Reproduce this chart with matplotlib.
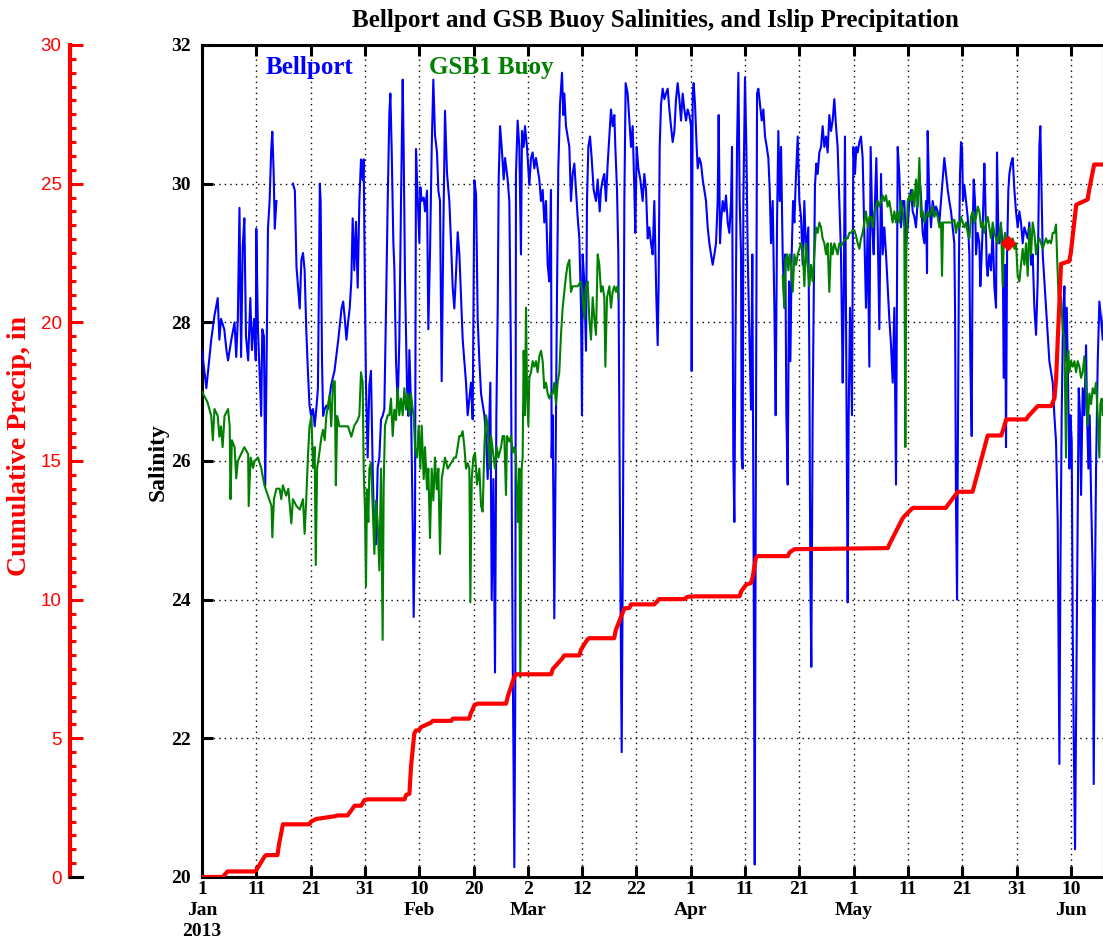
#!/usr/bin/env python3

# Bellport / GSB1 buoy salinity with Islip cumulative precip (Jan-Jun 2013).
# x values are days since 1 Jan 2013.

import numpy as np
import matplotlib
matplotlib.use('Agg')
import matplotlib.pyplot as plt
from matplotlib.ticker import MultipleLocator
from matplotlib.lines import Line2D

nan = np.nan

# ---- Bellport salinity (day, psu) ----
bell_jan = [(0.0,27.6),(0.8,27.05),(1.7,27.75),(2.3,28.1),(2.9,28.35),(3.2,27.75),(3.5,28.05),(4.1,27.9),(4.5,27.6),(4.8,27.45),
            (5.4,27.75),(6.0,28.0),(6.3,27.5),(6.6,28.05),(6.9,29.65),(7.2,27.5),(7.5,29.1),(7.8,29.5),(8.1,27.8),(8.5,27.45),
            (8.9,28.35),(9.2,27.6),(9.6,28.05),(9.9,27.45),(10.0,29.35),(10.3,27.9),(10.6,27.3),(10.9,26.65),(11.1,27.9),(11.4,27.8),
            (11.65,25.65),(11.9,27.45),(12.15,29.35),(12.45,29.75),(12.75,30.5),(12.95,30.75),(13.2,30.15),(13.4,29.35),(13.7,29.75),
            (15.0,nan),(16.75,30.0),(17.1,29.9),(17.4,28.8),(17.7,28.5),(18.0,28.2),(18.3,28.9),(18.6,29.0),(18.9,28.75),(19.2,27.9),
            (19.5,27.3),(19.8,26.8),(20.1,26.65),(20.45,26.75),(20.75,26.5),(21.05,26.75),(21.35,27.05),(21.7,30.0),(21.85,29.75),
            (22.1,27.45),(22.3,26.65),(22.6,26.75),(22.9,26.8),(23.2,26.75),(23.8,27.1),(24.4,27.3),(25.1,27.75),(25.7,28.2),(26.0,28.3),
            (26.3,28.05),(26.6,27.75),(26.9,28.0),(27.2,28.2),(27.5,28.6),(27.75,29.5),(28.05,28.75),(28.36,29.45),(28.67,28.5),
            (28.98,29.75),(29.28,30.35),(29.59,30.05),(29.77,30.35),(30.02,28.35)]
bell_feb = [(30.2,27.1),(30.51,26.05),(30.82,27.1),(31.12,27.3),(31.43,25.9),(31.74,24.9),(32.05,24.8),(32.35,25.9),(32.66,26.05),
            (32.97,26.6),(33.27,26.65),(33.58,26.75),(33.89,28.2),(34.2,29.75),(34.5,31.0),(34.69,31.3),(34.93,30.5),(35.24,29.15),
            (35.42,28.8),(35.73,27.45),(36.04,26.8),(36.34,27.75),(36.65,29.75),(36.96,31.5),(37.14,30.5),(37.39,28.6),(37.76,27.05),
            (38.0,26.65),(38.19,27.6),(38.49,26.8),(38.8,25.1),(38.98,23.75),(39.23,25.1),(39.41,30.5),(39.72,29.8),(40.03,29.15),
            (40.21,29.95),(40.46,29.75),(40.83,29.8),(41.07,29.6),(41.44,29.9),(41.68,27.9),(41.99,29.0),(42.3,30.5),(42.6,31.5),
            (42.91,30.7),(43.28,30.45),(43.53,29.9),(43.83,29.75),(44.14,27.15),(44.45,29.35),(44.75,31.05),(45.12,30.15),(45.55,29.75),
            (45.86,29.15),(46.17,28.5),(46.47,28.2),(46.78,28.7),(47.09,29.3),(47.4,28.98),(47.7,28.36),(48.01,27.75),(48.32,27.44),
            (48.62,27.13),(48.93,26.66),(49.24,26.9),(49.54,27.13),(49.85,26.6),(50.16,30.05),(50.47,29.85),(50.77,28.05),(51.08,27.44),
            (51.39,26.97),(51.69,26.82),(52.0,26.66),(52.31,26.36),(52.61,25.74),(53.1,27.13),(53.35,24.0),(53.66,25.74),(53.96,22.95),
            (54.21,26.66),(54.46,28.2),(54.64,30.06),(54.89,30.83),(55.19,30.53),(55.56,30.06),(55.81,30.37),(56.29,30.06),(56.6,29.75),
            (56.9,27.44),(57.21,23.27),(57.52,20.14),(57.7,22.8),(57.82,30.14),(58.13,30.91)]
bell_mar = [(58.44,30.53),(58.74,28.98),(58.93,30.76),(59.24,30.53),(59.48,30.83),(59.85,30.53),(60.28,29.98),(60.59,30.37),
            (60.89,30.45),(61.2,30.22),(61.51,30.37),(61.81,30.22),(62.12,30.06),(62.43,29.75),(62.74,29.91),(63.04,29.44),(63.35,29.75),
            (63.66,28.83),(63.96,28.59),(64.27,29.91),(64.39,26.05),(64.58,26.66),(64.88,23.73),(65.19,26.66),(65.38,28.44),(65.62,30.22),
            (65.93,31.14),(66.3,31.6),(66.54,30.99),(66.73,31.3),(67.03,30.83),(67.34,30.68),(67.65,30.53),(67.95,29.75),(68.26,30.14),
            (68.57,30.29),(68.88,29.91),(69.18,29.52),(69.49,29.21),(69.8,28.21),(69.98,26.66),(70.1,28.98),(70.41,28.59),(70.72,27.59),
            (70.9,29.75),(71.15,30.53),(71.46,30.68),(71.76,30.37),(72.13,29.91),(72.56,29.75),(72.87,30.06),(73.24,29.6),(73.48,29.91),
            (73.79,30.06),(74.09,30.14),(74.4,29.75),(74.71,30.29),(75.02,30.68),(75.32,31.07),(75.63,30.83),(75.94,30.99),(76.12,30.53),
            (76.43,29.91),(76.67,28.98),(76.86,26.66),(77.04,24.35),(77.29,21.8),(77.53,25.12),(77.78,29.75),(78.02,31.45),(78.39,31.3),
            (78.7,30.91),(79.01,30.53),(79.31,30.83),(79.62,29.91),(79.8,29.29),(80.05,30.53),(80.36,30.22),(80.72,30.06),(81.15,29.75),
            (81.46,30.14),(81.77,29.91),(82.08,29.21),(82.38,29.37),(82.69,29.14),(82.99,28.98),(83.3,29.75),(83.67,28.36),(83.92,27.67),
            (84.1,28.59),(84.29,30.53),(84.53,31.14),(84.84,31.37),(85.15,31.22),(85.45,31.3),(85.76,31.37),(86.07,31.07),(86.37,30.83),
            (86.68,30.6),(86.99,30.76),(87.3,31.22),(87.6,31.45),(87.91,31.22),(88.22,30.91),(88.52,31.3),(88.83,31.07),(89.14,30.91),
            (89.44,31.07),(89.75,30.99)]
bell_apr = [(90.06,30.83),(90.18,27.3),(90.37,31.3),(90.55,31.45),(90.8,31.14),(91.1,30.53),(91.29,30.22),(91.59,30.37),(91.9,30.29),
            (92.21,30.06),(92.51,29.91),(92.82,29.75),(93.13,29.37),(93.44,29.14),(93.74,28.98),(94.05,28.83),(94.36,28.98),(94.66,29.14),
            (94.97,29.75),(95.15,30.99),(95.4,29.14),(95.58,29.44),(95.89,29.75),(96.2,29.6),(96.5,29.83),(96.81,29.44),(97.12,29.29),
            (97.43,29.75),(97.61,30.53),(97.85,26.05),(98.04,25.12),(98.22,27.44),(98.53,30.53),(98.78,31.6),(99.02,29.75),(99.27,28.98),
            (99.39,26.05),(99.57,25.89),(99.7,29.75),(100.0,31.53),(100.25,30.53),(100.5,28.98),(100.8,27.82),(101.11,26.74),(101.35,28.98),
            (101.6,24.35),(101.79,20.18),(101.97,25.12),(102.22,31.3),(102.46,31.37),(102.77,31.14),(103.08,30.91),(103.38,31.07),
            (103.69,30.68),(104.0,30.53),(104.3,30.37),(104.55,29.91),(104.79,29.14),(105.1,29.75),(105.41,28.21),(105.65,26.66),
            (105.9,29.44),(106.14,30.76),(106.39,29.75),(106.64,30.53),(106.94,28.98),(107.25,28.21),(107.43,28.98),(107.62,26.66),
            (107.86,25.66),(108.11,28.59),(108.36,27.44),(108.6,28.98),(108.85,29.75),(109.09,29.44),(109.4,30.14),(109.71,30.68),
            (110.01,29.75),(110.32,29.52),(110.63,28.83),(110.93,29.75),(111.24,28.98),(111.66,29.37),(111.85,27.44),(112.03,24.35),
            (112.21,23.03),(112.46,26.66),(112.64,28.21),(112.89,29.98),(113.13,30.29),(113.38,30.14),(113.69,30.45),(114.0,30.53),
            (114.3,30.83),(114.61,30.53),(114.92,30.68),(115.22,30.45),(115.53,30.99),(115.84,30.76),(116.14,30.91),(116.45,31.22),
            (116.76,30.83),(117.06,30.53),(117.37,29.75),(117.68,28.98),(117.99,27.13),(118.17,28.21),(118.41,30.68),(118.66,27.44),
            (118.91,23.96),(119.09,26.66),(119.34,28.21),(119.52,27.44),(119.7,26.66),(119.95,30.53)]
bell_may = [(120.26,30.14),(120.5,30.53),(120.75,30.45),(121.06,30.6),(121.36,30.68),(121.67,30.37),(121.98,29.29),(122.28,28.21),
            (122.59,29.37),(122.9,27.36),(123.14,30.53),(123.45,29.37),(123.7,28.98),(123.94,29.75),(124.19,30.37),(124.43,29.37),
            (124.74,27.9),(125.05,30.14),(125.35,28.98),(125.66,29.37),(125.97,28.98),(126.27,28.52),(126.58,28.05),(126.89,27.67),
            (127.2,27.13),(127.5,28.21),(127.81,25.66),(128.12,30.53),(128.42,30.14),(128.73,29.37),(129.04,29.75),(129.34,29.75),
            (129.65,29.14),(129.96,29.37),(130.27,29.75),(130.57,29.91),(130.88,29.6),(131.19,29.52),(131.49,29.37),(131.8,29.75),
            (132.11,30.14),(132.41,29.83),(132.72,29.29),(133.03,29.14),(133.33,29.75),(133.52,28.71),(133.64,30.76),(133.95,29.75),
            (134.26,29.37),(134.56,29.75),(134.87,29.6),(135.18,29.67),(135.48,29.6),(135.79,29.44),(136.1,29.75),(136.41,30.06),
            (136.71,30.37),(137.02,30.14),(137.33,29.91),(137.63,29.75),(137.94,29.6),(138.25,29.37),(138.55,29.14),(138.68,28.21),
            (138.86,25.35),(139.05,24.0),(139.23,26.66),(139.41,28.98),(139.6,30.14),(139.78,30.6),(139.97,30.53),(140.15,29.75),
            (140.4,29.98),(140.7,29.75),(141.01,29.52),(141.32,28.98),(141.5,27.44),(141.75,26.36),(141.93,29.37),(142.12,30.06),
            (142.36,29.75),(142.55,28.98),(142.85,29.29),(143.16,29.14),(143.34,28.52),(143.59,28.98),(143.77,29.37),(144.08,30.29),
            (144.26,29.75),(144.51,28.83),(144.69,28.67),(145.0,28.98),(145.31,28.75),(145.62,29.37),(145.92,28.52),(146.23,28.21),
            (146.41,30.45),(146.66,29.29),(146.84,29.14),(147.15,29.37),(147.46,29.14),(147.64,27.2),(147.89,28.83),(148.07,26.2),
            (148.26,28.98),(148.5,29.91),(148.69,30.14),(148.99,30.29),(149.3,30.37),(149.61,29.91),(149.91,29.6),(150.22,29.37),
            (150.53,29.6),(150.83,29.44)]
bell_jun = [(151.14,29.14),(151.45,29.37),(151.76,29.29),(152.06,29.21),(152.37,29.44),(152.68,28.83),(152.98,28.98),(153.29,28.21),
            (153.6,27.82),(153.9,28.59),(154.21,30.53),(154.39,30.83),(154.64,29.75),(154.83,28.98),(155.13,28.59),(155.44,28.21),
            (155.75,27.82),(156.05,27.44),(156.36,27.28),(156.67,27.13),(156.97,26.66),(157.28,26.28),(157.59,25.12),(157.9,21.63),
            (158.08,24.35),(158.32,26.66),(158.57,28.05),(158.82,28.52),(159.0,27.44),(159.25,28.21),(159.43,27.44),(159.74,25.89),
            (159.92,26.66),(160.17,26.28),(160.35,23.57),(160.54,22.03),(160.78,20.4),(161.03,22.8),(161.27,25.12),(161.46,27.05),
            (161.7,26.66),(161.89,25.51),(162.19,27.05),(162.5,26.66),(162.81,27.67),(162.99,26.66),(163.24,25.89),(163.48,26.66),
            (163.73,25.51),(164.04,24.35),(164.22,21.34),(164.47,24.35),(164.65,25.89),(164.96,27.44),(165.26,28.3),(165.57,28.05),
            (165.88,27.75),(166.18,28.29)]

# ---- GSB1 buoy salinity (day, psu), gap from mid March to mid April ----
gsb_jan = [(0.0,27.0),(1.0,26.85),(1.7,26.65),(2.0,26.3),(2.3,26.75),(2.9,26.65),(3.2,26.35),(3.5,26.5),(3.8,26.2),(4.15,26.65),
           (4.8,26.75),(5.1,26.5),(5.25,25.45),(5.5,26.3),(6.0,26.2),(6.3,25.75),(6.6,26.0),(6.9,26.05),(7.2,26.1),(7.8,26.2),(8.5,26.1),
           (8.6,25.35),(8.95,26.05),(9.4,25.9),(9.7,26.0),(10.3,26.05),(10.9,25.9),(11.5,25.65),(12.15,25.5),(12.8,25.35),(12.95,24.9),
           (13.25,25.45),(13.7,25.6),(14.3,25.6),(14.6,25.45),(14.9,25.65),(15.5,25.5),(15.9,25.6),(16.45,25.1),(16.75,25.45),(17.4,25.35),
           (18.0,25.3),(18.6,25.45),(18.9,24.95),(19.2,25.45),(19.5,26.05),(19.8,26.5),(20.15,26.65),(20.45,25.9),(20.75,26.2),(20.95,24.5),
           (21.2,25.9),(21.5,26.05),(22.0,26.35),(22.3,26.45),(22.6,26.3),(22.9,26.65),(23.2,26.8),(23.5,26.95),(23.8,26.5),(24.15,27.15),
           (24.45,27.15),(24.65,25.65),(24.9,26.65),(25.3,26.5),(26.0,26.5),(26.9,26.5),(27.5,26.35),(28.05,26.51),(28.67,26.59),
           (28.98,26.66),(29.28,27.28),(29.59,27.13),(29.77,25.89)]
gsb_feb = [(30.02,25.27),(30.2,24.19),(30.39,25.59),(30.63,25.12),(30.82,25.89),(31.12,25.97),(31.43,25.35),(31.74,24.66),(32.05,25.43),
           (32.35,25.12),(32.66,24.42),(32.97,25.89),(33.27,23.42),(33.46,25.66),(33.7,26.51),(34.2,26.66),(34.5,26.66),(34.81,26.9),
           (35.12,26.36),(35.42,26.74),(35.73,26.59),(36.04,27.05),(36.34,26.66),(36.65,26.9),(36.96,26.66),(37.27,27.05),(37.57,26.74),
           (37.88,26.97),(38.19,26.66),(38.49,26.97),(38.8,26.74),(38.98,26.66),(39.23,26.2),(39.6,26.05),(39.9,26.51),(40.21,25.89),
           (40.46,26.51),(40.83,25.74),(41.07,26.2),(41.44,25.59),(41.68,25.89),(41.99,24.89),(42.3,25.89),(42.6,25.43),(42.91,26.05),
           (43.22,25.59),(43.53,25.89),(43.83,24.66),(44.14,25.74),(44.45,25.89),(44.75,26.05),(45.25,25.89),(45.86,25.97),(46.47,26.05),
           (46.78,26.05),(47.09,26.2),(47.4,26.36),(47.7,26.36),(48.01,26.43),(48.32,26.2),(48.62,25.89),(48.93,25.97),(49.24,25.89),
           (49.42,23.96),(49.67,25.74),(49.97,26.05),(50.28,26.12),(50.65,25.66),(51.08,25.89),(51.39,25.35),(51.69,25.27),(52.0,26.2),
           (52.31,26.66),(52.61,26.51),(52.92,25.89),(53.23,26.36),(53.72,26.05),(53.96,25.89),(54.27,26.2),(54.58,26.05),(55.07,26.2),
           (55.38,26.36),(55.67,26.36),(55.98,25.51),(56.17,26.36),(56.6,26.28),(56.9,26.36),(57.21,26.12),(57.52,26.2),(57.82,26.05),
           (58.13,25.12)]
gsb_mar = [(58.44,25.89),(58.62,22.88),(58.87,25.89),(59.05,26.05),(59.24,27.59),(59.48,26.66),(59.67,28.21),(59.85,27.05),(60.1,26.51),
           (60.28,27.2),(60.59,27.28),(60.89,27.44),(61.2,27.36),(61.51,27.44),(61.81,27.28),(62.12,27.51),(62.43,27.59),(62.74,27.44),
           (63.04,27.05),(63.35,27.13),(63.66,26.97),(63.96,26.9),(64.27,26.97),(64.58,26.97),(64.88,27.13),(65.19,26.82),(65.5,27.13),
           (65.8,27.28),(66.11,27.82),(66.42,28.21),(66.73,28.44),(67.03,28.67),(67.34,28.83),(67.65,28.9),(67.95,28.44),(68.26,28.52),
           (68.57,28.52),(69.18,28.52),(69.8,28.59),(70.1,28.36),(70.41,28.05),(70.72,28.52),(71.02,28.59),(71.33,28.05),(71.64,27.75),
           (71.95,28.36),(72.25,28.05),(72.56,27.82),(72.87,28.98),(73.17,28.83),(73.48,28.44),(73.79,28.52),(74.09,28.36),(74.28,27.36),
           (74.59,28.36),(75.02,28.52),(75.32,28.21),(75.63,28.44),(75.94,28.52),(76.24,28.44),(76.55,28.52),(76.67,28.36)]
gsb_apr = [(106.94,28.67),(107.25,28.21),(107.43,28.9),(107.74,28.98),(107.99,28.75),(108.23,28.98),(108.48,28.83),(108.79,28.44),
           (109.09,28.98),(109.4,28.83),(109.71,28.98),(110.01,29.06),(110.32,29.14),(110.63,29.06),(110.93,28.52),(111.24,29.14),
           (111.54,28.83),(111.85,28.52),(112.15,28.83),(112.46,28.59),(112.77,28.98),(113.07,29.37),(113.38,29.29),(113.69,29.44),
           (114.0,29.37),(114.3,29.21),(114.61,29.14),(114.92,28.98),(115.22,29.14),(115.53,28.44),(115.84,29.14),(116.14,28.98),
           (116.45,29.14),(116.76,29.06),(117.06,28.98),(117.37,29.14),(117.68,29.1),(117.99,29.14),(118.29,29.18),(118.6,29.21),
           (118.91,29.21),(119.21,29.29),(119.52,29.29),(119.83,29.33)]
gsb_may = [(120.13,29.33),(120.44,29.25),(120.75,29.14),(121.06,29.06),(121.36,29.21),(121.67,29.29),(121.98,29.44),(122.28,29.6),
           (122.59,29.37),(122.9,29.52),(123.2,29.52),(123.51,29.37),(123.82,29.6),(124.13,29.67),(124.43,29.75),(124.74,29.67),
           (125.05,29.75),(125.35,29.83),(125.66,29.75),(125.97,29.83),(126.27,29.67),(126.58,29.75),(126.89,29.6),(127.2,29.44),
           (127.5,29.6),(127.81,29.44),(128.12,29.6),(128.42,29.44),(128.73,29.75),(129.04,29.6),(129.34,29.37),(129.53,26.2),
           (129.71,28.98),(129.96,29.75),(130.27,29.83),(130.57,29.75),(130.88,29.91),(131.19,29.67),(131.49,30.06),(131.8,29.67),
           (132.11,30.37),(132.41,29.52),(132.72,29.6),(133.03,29.44),(133.33,29.52),(133.64,29.6),(133.95,29.52),(134.26,29.6),
           (134.56,29.67),(134.87,29.52),(135.18,29.6),(135.48,29.52),(135.79,29.37),(136.1,29.44),(136.28,28.67),(136.47,29.44),
           (136.71,29.44),(137.33,29.44),(137.94,29.44),(138.55,29.48),(138.86,29.29),(139.17,29.44),(139.48,29.37),(139.78,29.52),
           (140.09,29.44),(140.4,29.37),(140.7,29.44),(141.01,29.29),(141.32,29.21),(141.62,29.52),(141.93,29.6),(142.24,29.44),
           (142.55,29.52),(142.85,29.67),(143.16,29.6),(143.47,29.37),(143.77,29.44),(144.08,29.29),(144.39,29.44),(144.69,29.52),
           (145.0,29.37),(145.31,29.21),(145.62,29.44),(145.92,29.29),(146.23,29.21),(146.54,29.14),(146.84,29.29),(147.15,29.44),
           (147.46,28.52),(147.64,29.14),(147.89,29.29),(148.07,29.21),(148.38,29.14),(148.69,29.21),(148.99,29.14),(149.3,29.21),
           (149.61,29.06),(149.91,29.14),(150.22,28.67),(150.53,28.59),(150.83,28.83)]
gsb_jun = [(151.14,29.06),(151.45,28.83),(151.76,29.14),(152.06,28.67),(152.37,29.37),(152.68,28.98),(152.98,29.44),(153.29,29.29),
           (153.6,28.98),(153.9,29.14),(154.21,29.21),(154.52,29.14),(154.83,29.06),(155.13,29.14),(155.44,29.21),(155.75,29.14),
           (156.05,29.18),(156.36,29.14),(156.67,29.29),(156.97,29.29),(157.28,29.41),(157.46,28.98),(157.71,28.44),(157.96,28.21),
           (158.2,28.36),(158.51,27.9),(158.82,27.75),(159.12,26.05),(159.31,27.44),(159.55,27.59),(159.74,27.28),(160.04,27.44),
           (160.35,27.36),(160.66,27.44),(160.97,27.28),(161.27,27.44),(161.58,27.36),(161.89,27.2),(162.19,27.28),(162.5,27.51),
           (162.81,27.05),(163.11,26.51),(163.42,26.97),(163.73,26.82),(164.04,27.05),(164.34,26.97),(164.65,27.13),(164.96,26.66),
           (165.26,26.05),(165.44,26.82),(165.69,26.9),(165.88,26.66),(166.18,26.74)]

# ---- Islip cumulative precip (day, inches) ----
precip_q1 = [(0,0),(3.8,0),(4.7,0.2),(9.6,0.2),(10.0,0.25),(11.5,0.73),(11.8,0.79),(13.9,0.79),(14.2,1.2),(14.9,1.9),(19.8,1.9),
             (20.1,2.0),(21.0,2.09),(24.4,2.19),(25.0,2.22),(26.8,2.22),(27.4,2.38),(28.1,2.57),(29.3,2.57),(29.9,2.77),(30.5,2.8),
             (37.3,2.8),(37.6,2.96),(38.2,3.0),(38.5,4.0),(39.1,5.18),(39.4,5.28),(40.0,5.3),(40.3,5.4),(42.2,5.57),(42.5,5.63),
             (45.9,5.63),(46.2,5.71),(49.2,5.71),(49.5,5.9),(50.2,6.21),(50.8,6.25),(56.0,6.25),(56.3,6.5),(57.5,7.21),(57.8,7.31),
             (64.3,7.31),(64.6,7.5),(66.4,7.89),(66.7,7.99),(69.5,7.99),(69.8,8.2),(71.0,8.57),(71.3,8.61),(75.9,8.61),(76.2,8.9),
             (77.5,9.54),(77.8,9.69),(78.7,9.7),(79.0,9.83),(83.3,9.83),(84.2,10.02),(88.8,10.02),(89.4,10.1)]
precip_q2 = [(90.7,10.12),(99.0,10.12),(99.3,10.3),(100.2,10.54),(101.1,10.6),(101.4,10.8),(102.0,11.51),(102.3,11.57),(107.9,11.57),
             (108.2,11.7),(109.1,11.82),(126.3,11.86),(126.6,12.0),(129.0,12.92),(129.3,13.0),(130.9,13.31),(137.0,13.31),(137.3,13.4),
             (139.2,13.89),(141.9,13.89),(142.2,14.1),(144.7,15.92),(147.2,15.92),(147.5,16.1),(148.1,16.5),(151.8,16.5),(152.1,16.6),
             (153.9,16.98),(156.4,16.98),(157.0,17.27),(157.3,18.0),(158.2,22.11),(159.7,22.2),(160.0,22.5),(161.0,24.24),(163.1,24.43),
             (163.4,24.8),(164.3,25.69),(166.5,25.69)]

marker_pt = (148.5, 29.15)

tick_days = [0, 10, 20, 30, 40, 50, 60, 70, 80, 90, 100, 110, 120, 130, 140, 150, 160]
tick_lbls = ['1\nJan\n2013', '11', '21', '31', '10\nFeb', '20', '2\nMar', '12', '22',
             '1\nApr', '11', '21', '1\nMay', '11', '21', '31', '10\nJun']


def xy(*parts):
    a = np.array([p for part in parts for p in part], dtype=float)
    return a[:, 0], a[:, 1]


SERIF = 'Liberation Serif'
BLUE = '#0000ff'
GREEN = '#008000'
RED = '#ff0000'

fig = plt.figure(figsize=(11.03, 9.5), dpi=100)
L, B, W, H = 202/1103, 73/950, 902/1103, 832/950
ax = fig.add_axes([L, B, W, H])

bd, bs = xy(bell_jan, bell_feb, bell_mar, bell_apr, bell_may, bell_jun)
ax.plot(bd, bs, color=BLUE, lw=1.5, zorder=3)
gd, gs = xy(gsb_jan, gsb_feb, gsb_mar)
ax.plot(gd, gs, color=GREEN, lw=1.5, zorder=4)
gd, gs = xy(gsb_apr, gsb_may, gsb_jun)
ax.plot(gd, gs, color=GREEN, lw=1.5, zorder=4)
ax.plot(*marker_pt, 'D', color=RED, ms=7, zorder=6)

ax.set_xlim(0, 902/5.43)
ax.set_ylim(20, 32)
ax.set_yticks(np.arange(20, 33, 2))
ax.set_xticks(tick_days)
ax.set_xticklabels(tick_lbls)
ax.grid(True, color='k', lw=1.0, linestyle=(0, (1, 3)))
ax.set_axisbelow(True)
ax.tick_params(direction='in', top=True, right=True, length=8, width=2.2, labelsize=14)
ax.tick_params(axis='x', pad=3)
ax.tick_params(axis='y', pad=8)
for lab in ax.get_xticklabels() + ax.get_yticklabels():
    lab.set_fontfamily(SERIF)
    lab.set_fontweight('bold')
for lab in ax.get_xticklabels():
    lab.set_linespacing(1.3)
for s in ax.spines.values():
    s.set_linewidth(2.2)

ax.text(11.8, 31.67, 'Bellport', color=BLUE, fontsize=18, fontweight='bold', family=SERIF, va='center')
ax.text(41.8, 31.67, 'GSB1 Buoy', color=GREEN, fontsize=18, fontweight='bold', family=SERIF, va='center')

# precip on its own scale, drawn over the salinity lines
tw = ax.twinx()
tw.set_ylim(0, 30)
pd_, pv = xy(precip_q1, precip_q2)
tw.plot(pd_, pv, color=RED, lw=3, zorder=5)
tw.set_axis_off()

# separate red axis on the far left
axr = fig.add_axes([70/1103, B, 0.001, H])
axr.set_ylim(0, 30)
axr.patch.set_visible(False)
for k in ['right', 'top', 'bottom']:
    axr.spines[k].set_visible(False)
axr.spines['left'].set_color(RED)
axr.spines['left'].set_linewidth(3)
axr.set_xticks([])
axr.yaxis.set_major_locator(MultipleLocator(5))
axr.yaxis.set_minor_locator(MultipleLocator(0.5))
axr.tick_params(axis='y', which='major', direction='in', length=9, width=2.2, color=RED,
                labelcolor=RED, labelsize=13.5, pad=6)
axr.tick_params(axis='y', which='minor', direction='in', length=4, width=2.2, color=RED)
for lab in axr.get_yticklabels():
    lab.set_fontfamily('Liberation Sans')
fig.add_artist(Line2D([70/1103, 82/1103], [B, B], color='k', lw=2.2))

fig.text(20/1103, 1 - 446/950, 'Cumulative Precip, in', color=RED, rotation=90, fontsize=20,
         fontweight='bold', family=SERIF, ha='center', va='center')
fig.text(158/1103, 1 - 462/950, 'Salinity', rotation=90, fontsize=17,
         fontweight='bold', family=SERIF, ha='center', va='center')
fig.text(655/1103, 1 - 20/950, 'Bellport and GSB Buoy Salinities, and Islip Precipitation',
         fontsize=18, fontweight='bold', family=SERIF, ha='center', va='center')

fig.savefig('out.png', dpi=100)
